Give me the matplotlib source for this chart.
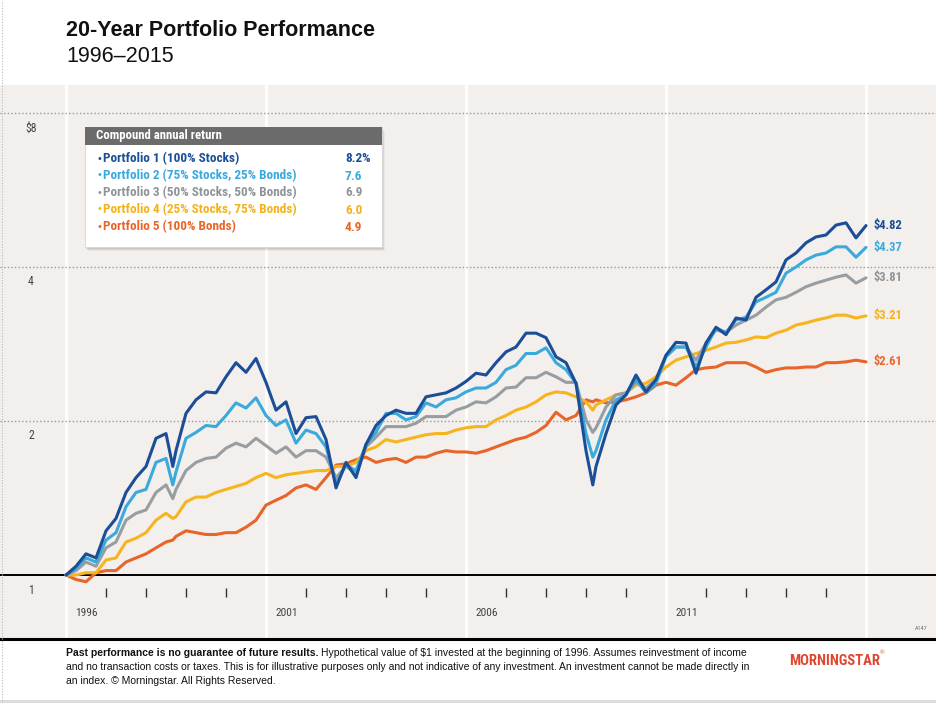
import matplotlib
matplotlib.use("Agg")
import matplotlib.pyplot as plt
from matplotlib import font_manager as fm
from matplotlib.patches import Rectangle
from matplotlib.lines import Line2D

W, H = 937, 703

# ---------------- data ----------------
quarters = [1996 + q / 4 for q in range(81)]
dates = quarters[:11] + [1998.67] + quarters[11:53] + [2009.17] + quarters[53:]

p1 = [1.00, 1.04, 1.10, 1.08, 1.22, 1.29, 1.45, 1.55, 1.63, 1.85, 1.89,
      1.63,
      1.75, 2.07, 2.20, 2.28, 2.27, 2.44, 2.60, 2.49, 2.65, 2.38,
      2.10, 2.18, 1.89, 2.03, 2.04, 1.84, 1.48, 1.66, 1.55, 1.80,
      1.96, 2.05, 2.10, 2.07, 2.07, 2.23, 2.25, 2.27, 2.32, 2.39,
      2.48, 2.46, 2.60, 2.73, 2.79, 2.97, 2.97, 2.91, 2.67, 2.60,
      2.37, 1.75,
      1.50,
      1.63, 1.89, 2.15, 2.25, 2.46, 2.28, 2.41, 2.69,
      2.85, 2.84, 2.48, 2.84, 3.05, 2.95, 3.18, 3.15, 3.49, 3.61,
      3.74, 4.13, 4.26, 4.46, 4.58, 4.62, 4.83, 4.88, 4.56, 4.82]
p2 = [1.00, 1.03, 1.08, 1.06, 1.17, 1.21, 1.36, 1.45, 1.47, 1.66, 1.69,
      1.50,
      1.59, 1.85, 1.90, 1.96, 1.95, 2.05, 2.17, 2.12, 2.22, 2.05,
      1.96, 2.01, 1.81, 1.92, 1.89, 1.78, 1.51, 1.64, 1.60, 1.80,
      1.90, 2.07, 2.07, 2.01, 2.04, 2.17, 2.13, 2.20, 2.22, 2.28,
      2.32, 2.32, 2.38, 2.52, 2.57, 2.71, 2.71, 2.78, 2.60, 2.52,
      2.37, 1.89,
      1.70,
      1.75, 2.01, 2.20, 2.25, 2.41, 2.27, 2.37, 2.67,
      2.79, 2.79, 2.55, 2.79, 3.04, 2.98, 3.15, 3.19, 3.42, 3.49,
      3.57, 3.89, 4.00, 4.13, 4.22, 4.26, 4.38, 4.38, 4.18, 4.37]
p3 = [1.00, 1.02, 1.06, 1.04, 1.13, 1.16, 1.28, 1.32, 1.34, 1.45, 1.50,
      1.41,
      1.47, 1.60, 1.66, 1.69, 1.70, 1.77, 1.81, 1.78, 1.85, 1.79,
      1.73, 1.78, 1.70, 1.75, 1.75, 1.70, 1.55, 1.63, 1.58, 1.78,
      1.86, 1.95, 1.95, 1.95, 1.98, 2.04, 2.04, 2.04, 2.10, 2.13,
      2.18, 2.17, 2.23, 2.32, 2.33, 2.43, 2.43, 2.49, 2.44, 2.38,
      2.38, 2.01,
      1.90,
      1.94, 2.13, 2.25, 2.27, 2.38, 2.32, 2.41, 2.68,
      2.79, 2.79, 2.63, 2.84, 3.01, 2.98, 3.08, 3.15, 3.22, 3.34,
      3.45, 3.49, 3.57, 3.66, 3.72, 3.77, 3.82, 3.86, 3.72, 3.81]
p4 = [1.00, 1.00, 1.01, 1.01, 1.07, 1.08, 1.16, 1.18, 1.21, 1.28, 1.32,
      1.29,
      1.30, 1.39, 1.42, 1.42, 1.45, 1.47, 1.49, 1.51, 1.55, 1.58,
      1.55, 1.57, 1.58, 1.59, 1.60, 1.60, 1.63, 1.63, 1.66, 1.75,
      1.78, 1.84, 1.82, 1.84, 1.86, 1.88, 1.89, 1.89, 1.92, 1.94,
      1.95, 1.95, 2.01, 2.05, 2.10, 2.13, 2.18, 2.25, 2.28, 2.27,
      2.23, 2.18,
      2.10,
      2.15, 2.20, 2.25, 2.27, 2.35, 2.37, 2.44, 2.55,
      2.63, 2.67, 2.71, 2.75, 2.79, 2.84, 2.85, 2.88, 2.92, 2.91,
      2.97, 3.01, 3.08, 3.11, 3.15, 3.18, 3.22, 3.22, 3.18, 3.21]
p5 = [1.00, 0.98, 0.97, 1.01, 1.02, 1.02, 1.06, 1.08, 1.10, 1.13, 1.16,
      1.17,
      1.19, 1.22, 1.21, 1.20, 1.20, 1.21, 1.21, 1.24, 1.28, 1.37,
      1.40, 1.43, 1.48, 1.50, 1.47, 1.55, 1.64, 1.65, 1.68, 1.70,
      1.66, 1.68, 1.69, 1.66, 1.70, 1.70, 1.73, 1.75, 1.74, 1.74,
      1.73, 1.75, 1.78, 1.81, 1.84, 1.86, 1.90, 1.96, 2.08, 2.01,
      2.05, 2.20,
      2.18,
      2.20, 2.17, 2.18, 2.20, 2.23, 2.27, 2.35, 2.38,
      2.35, 2.43, 2.52, 2.54, 2.55, 2.60, 2.60, 2.60, 2.55, 2.49,
      2.52, 2.54, 2.54, 2.55, 2.55, 2.60, 2.60, 2.61, 2.63, 2.61]

series = [p1, p2, p3, p4, p5]
names = ["Portfolio 1 (100% Stocks)",
         "Portfolio 2 (75% Stocks, 25% Bonds)",
         "Portfolio 3 (50% Stocks, 50% Bonds)",
         "Portfolio 4 (25% Stocks, 75% Bonds)",
         "Portfolio 5 (100% Bonds)"]
returns = ["8.2%", "7.6", "6.9", "6.0", "4.9"]
end_labels = ["$4.82", "$4.37", "$3.81", "$3.21", "$2.61"]
colors = ["#1B4E96", "#3AA9DC", "#979DA1", "#F6B51E", "#E8652A"]
text_colors = ["#1B4E96", "#3AA9DC", "#8E9498", "#F3B21C", "#E8652A"]

y_ticks = [1, 2, 4, 8]
y_tick_labels = ["1", "2", "4", "$8"]
year_labels = [1996, 2001, 2006, 2011]
minor_years = [1997, 1998, 1999, 2000, 2002, 2003, 2004, 2005,
               2007, 2008, 2009, 2010, 2012, 2013, 2014, 2015]
white_lines = [1996, 2001, 2006, 2011, 2016]

# ---------------- fonts ----------------
avail = {f.name for f in fm.fontManager.ttflist}
COND = None
STRETCH = "normal"
for cand in ["Liberation Sans Narrow", "Roboto Condensed", "Open Sans Condensed"]:
    if cand in avail:
        COND = cand
        break
if COND is None:
    COND = "DejaVu Sans"
    STRETCH = "condensed"
ARIAL = "Liberation Sans" if "Liberation Sans" in avail else "DejaVu Sans"

fig = plt.figure(figsize=(W / 100, H / 100), dpi=100)
fig.patch.set_facecolor("white")


def T(px, py, s, **kw):
    return fig.text(px / W, 1 - py / H, s, parse_math=False, **kw)


# ---------------- axes ----------------
ax_bottom, ax_top = 639, 85
ax = fig.add_axes([0, 1 - ax_bottom / H, 1, (ax_bottom - ax_top) / H])
ax.set_facecolor("#F2EFEC")
ax.set_yscale("log", base=2)
ax.set_ylim(2 ** ((575 - ax_bottom) / 154), 2 ** ((575 - ax_top) / 154))
ax.set_xlim(1996 - 66 / 40, 1996 + (W - 66) / 40)
ax.set_xticks([])
ax.set_yticks([])
ax.yaxis.set_minor_locator(matplotlib.ticker.NullLocator())
for s in ["top", "left", "right"]:
    ax.spines[s].set_visible(False)
ax.spines["bottom"].set_color("black")
ax.spines["bottom"].set_linewidth(2.2)

for x in white_lines:
    ax.axvline(x, color="white", lw=2, zorder=1)
for v in y_ticks[1:]:
    ax.axhline(v, color="#9A9A9A", lw=1, ls=(0, (1, 1.6)), zorder=1.5)
ax.axhline(1, color="black", lw=1.4, zorder=1.5)

for i in reversed(range(5)):
    ax.plot(dates, series[i], color=colors[i], lw=2.2, zorder=3 + (5 - i),
            solid_joinstyle="round", solid_capstyle="round")
    ax.annotate(end_labels[i], xy=(dates[-1], series[i][-1]), xytext=(7, 0),
                textcoords="offset pixels", ha="left", va="center",
                color=text_colors[i], fontsize=9, fontweight="bold",
                family=COND, fontstretch=STRETCH, annotation_clip=False)

ytr = ax.get_yaxis_transform()
for v, lbl in zip(y_ticks, y_tick_labels):
    ax.annotate(lbl, xy=(31 / W, v), xycoords=ytr, xytext=(0, -15),
                textcoords="offset pixels", ha="center", va="center",
                fontsize=8.5, color="#444444", family=COND, fontstretch=STRETCH)

xtr = ax.get_xaxis_transform()
ax.vlines(minor_years, (ax_bottom - 597) / (ax_bottom - ax_top),
          (ax_bottom - 588) / (ax_bottom - ax_top), transform=xtr,
          color="#333333", lw=1)
for yr in year_labels:
    ax.annotate(str(yr), xy=(yr, 0), xycoords=xtr, xytext=(9, ax_bottom - 613),
                textcoords="offset pixels", ha="left", va="center",
                fontsize=8.2, color="#444444", family=COND, fontstretch=STRETCH)

T(915, 629, "A147", fontsize=4.5, color="#777777", family=COND,
  fontstretch=STRETCH, va="center")

# ---------------- title ----------------
T(66, 30, "20-Year Portfolio Performance", fontsize=15.5, fontweight="bold",
  family=ARIAL, va="center", color="#111111")
T(66, 57, "1996\u20132015", fontsize=15.5, family=ARIAL, va="center",
  color="#111111")

# ---------------- legend box ----------------
bx0, bx1, by0, by1 = 85, 382, 127, 247
for k, a in [(4, 0.10), (3, 0.15), (2, 0.2)]:
    fig.add_artist(Rectangle(((bx0 + k - 1) / W, 1 - (by1 + k) / H),
                             (bx1 - bx0) / W, (by1 - by0) / H,
                             transform=fig.transFigure, fc="#888888",
                             ec="none", alpha=a, zorder=1))
fig.add_artist(Rectangle((bx0 / W, 1 - by1 / H), (bx1 - bx0) / W,
                         (by1 - by0) / H, transform=fig.transFigure,
                         fc="white", ec="#D5D5D5", lw=0.6, zorder=2))
fig.add_artist(Rectangle((bx0 / W, 1 - 145 / H), (bx1 - bx0) / W, 18 / H,
                         transform=fig.transFigure, fc="#6B6B6B", ec="none",
                         zorder=2.5))
T(96, 136, "Compound annual return", fontsize=9.2, fontweight="bold",
  color="white", family=COND, fontstretch=STRETCH, va="center", zorder=4)
for i in range(5):
    yy = 159 + 17 * i
    T(99, yy - 0.5, "\u2022", fontsize=7, color=text_colors[i], ha="center",
      va="center", family="DejaVu Sans", zorder=4)
    T(103, yy, names[i], fontsize=9.5, fontweight="bold", color=text_colors[i],
      family=COND, fontstretch=STRETCH, va="center", zorder=4)
    T(345, yy, returns[i], fontsize=9.5, fontweight="bold",
      color=text_colors[i], family=COND, fontstretch=STRETCH, va="center",
      zorder=4)

# ---------------- footer ----------------
FS = 7.5
fig.canvas.draw()
r = fig.canvas.get_renderer()
b = T(66, 653, "Past performance is no guarantee of future results.",
      fontsize=FS, fontweight="bold", family=ARIAL, va="center",
      color="#111111")
bw = b.get_window_extent(renderer=r).width
T(66 + bw + 3, 653, "Hypothetical value of $1 invested at the beginning of "
  "1996. Assumes reinvestment of income", fontsize=FS, family=ARIAL,
  va="center", color="#111111")
T(66, 667, "and no transaction costs or taxes. This is for illustrative "
  "purposes only and not indicative of any investment. An investment cannot "
  "be made directly in", fontsize=FS, family=ARIAL, va="center",
  color="#111111")
T(66, 681, "an index. \u00a9 Morningstar. All Rights Reserved.", fontsize=FS,
  family=ARIAL, va="center", color="#111111")

T(789, 661, "MORNINGSTAR", fontsize=10.5, fontweight="bold", color="#E0452F",
  family=COND, fontstretch=STRETCH, va="center")
T(880, 653, "\u00ae", fontsize=4.5, color="#E0452F", family=ARIAL, va="center")

# page frame
fig.add_artist(Line2D([2 / W, 2 / W], [0, 1], transform=fig.transFigure,
                      color="#BBBBBB", lw=0.8, ls=(0, (1, 1.5))))
fig.add_artist(Rectangle((0, 0), 1, 3 / H, transform=fig.transFigure,
                         fc="#DDDDDD", ec="none"))

fig.savefig("out.png", dpi=100, facecolor="white")
